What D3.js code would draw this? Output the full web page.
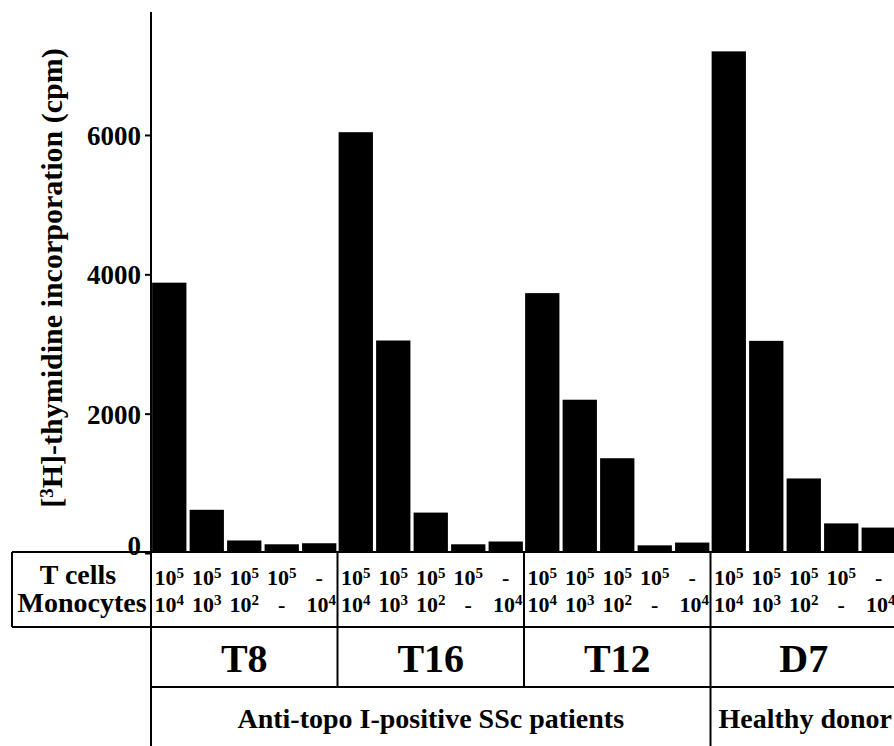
<!DOCTYPE html>
<html>
<head>
<meta charset="utf-8">
<script src="https://cdn.jsdelivr.net/npm/d3@7"></script>
<style>
  body { margin: 0; background: #fff; }
  text { font-family: "Liberation Serif", "DejaVu Serif", serif; font-weight: bold; fill: #000; }
</style>
</head>
<body>
<svg class="chart"></svg>
<script>
// cpm, one array per donor
var groups = ["T8", "T16", "T12", "D7"];
var t8  = [3880, 620, 180, 125, 140];
var t16 = [6040, 3050, 580, 125, 165];
var t12 = [3730, 2200, 1360, 110, 150];
var d7  = [7200, 3045, 1070, 425, 365];
var yTicks = [0, 2000, 4000, 6000];
var tCells = ["10|5", "10|5", "10|5", "10|5", "-"];
var monocytes = ["10|4", "10|3", "10|2", "-", "10|4"];
var cohorts = [
  {name: "Anti-topo I-positive SSc patients", from: "T8", to: "T12"},
  {name: "Healthy donor", from: "D7", to: "D7"}
];

var values = [t8, t16, t12, d7];
var conds = d3.range(5);

var width = 894, height = 746;
var axisX = 151, zeroY = 553, topY = 12;
var tableTop = 552, row1 = 627, row2 = 687, tableLeft = 12;

var svg = d3.select(".chart")
    .attr("width", width)
    .attr("height", height);

var x = d3.scaleBand()
    .domain(groups)
    .range([axisX, axisX + 4 * 186.5]);

var xi = d3.scaleBand()
    .domain(conds)
    .range([0, x.bandwidth()])
    .paddingInner(0.085)
    .paddingOuter(0.03);

var y = d3.scaleLinear()
    .domain([0, 7765])
    .range([zeroY, topY]);

// bars
var g = svg.selectAll(".grp")
    .data(groups)
  .enter().append("g")
    .attr("class", "grp")
    .attr("transform", function(d) { return "translate(" + x(d) + ",0)"; });

g.selectAll("rect")
    .data(function(d, i) { return values[i]; })
  .enter().append("rect")
    .attr("x", function(d, i) { return xi(i); })
    .attr("y", function(d) { return y(d); })
    .attr("width", xi.bandwidth())
    .attr("height", function(d) { return zeroY - y(d); })
    .attr("fill", "#000");

// y axis
var yAxis = d3.axisLeft(y).tickValues(yTicks).tickSize(6).tickPadding(4).tickFormat(d3.format("d"));
var ax = svg.append("g")
    .attr("transform", "translate(" + axisX + ",0)")
    .call(yAxis);
ax.select(".domain").remove();
ax.selectAll(".tick line").attr("stroke", "#000").attr("stroke-width", 2);
ax.selectAll(".tick text")
    .style("font-size", "27px")
    .style("font-family", "Liberation Serif")
    .attr("dy", function(d) { return d === 0 ? "0.05em" : "0.35em"; });

svg.append("line")
    .attr("x1", axisX).attr("x2", axisX)
    .attr("y1", topY).attr("y2", height)
    .attr("stroke", "#000").attr("stroke-width", 2);

// y title
var yt = svg.append("text")
    .attr("transform", "translate(62," + 278 + ") rotate(-90)")
    .style("text-anchor", "middle")
    .style("font-size", "30px");
yt.append("tspan").text("[");
yt.append("tspan").text("3").style("font-size", "19px").attr("dy", "-0.5em");
yt.append("tspan").text("H]-thymidine incorporation (cpm)").attr("dy", "0.32em");

// table lines
var rightEdge = width + 5;
var lines = [
  [tableLeft, tableTop, rightEdge, tableTop],
  [tableLeft, row1, rightEdge, row1],
  [tableLeft, tableTop, tableLeft, row1],
  [axisX, row2, rightEdge, row2]
];
groups.slice(1).forEach(function(gr) {
  lines.push([x(gr), tableTop, x(gr), row2]);
});
lines.push([x("D7"), row2, x("D7"), height]);

svg.selectAll(".tline")
    .data(lines)
  .enter().append("line")
    .attr("class", "tline")
    .attr("x1", function(d) { return d[0]; })
    .attr("y1", function(d) { return d[1]; })
    .attr("x2", function(d) { return d[2]; })
    .attr("y2", function(d) { return d[3]; })
    .attr("stroke", "#000")
    .attr("stroke-width", 2);

// row labels
svg.append("text").attr("x", 78).attr("y", 584)
    .style("text-anchor", "middle").style("font-size", "28px").text("T cells");
svg.append("text").attr("x", 82).attr("y", 612)
    .style("text-anchor", "middle").style("font-size", "28px").text("Monocytes");

function power(sel, s) {
  var p = s.split("|");
  sel.append("tspan").text(p[0]);
  if (p[1]) sel.append("tspan").text(p[1]).style("font-size", "15px").attr("dy", "-0.5em");
}

[[tCells, 585], [monocytes, 612]].forEach(function(row) {
  g.selectAll(null)
      .data(row[0])
    .enter().append("text")
      .attr("x", function(d, i) { return xi(i) + xi.bandwidth() / 2 + (i === 4 && d !== "-" ? 2 : 0); })
      .attr("y", row[1])
      .style("text-anchor", "middle")
      .style("font-size", "22px")
      .each(function(d) { power(d3.select(this), d); });
});

// donor names
g.append("text")
    .attr("x", x.bandwidth() / 2)
    .attr("y", 672)
    .style("text-anchor", "middle")
    .style("font-size", "40px")
    .text(function(d) { return d; });

// cohorts
svg.selectAll(".cohort")
    .data(cohorts)
  .enter().append("text")
    .attr("class", "cohort")
    .attr("x", function(d) {
      var a = x(d.from), b = x(d.to) + x.bandwidth();
      return d.from === d.to ? a + 8 : (a + b) / 2;
    })
    .attr("y", 728)
    .style("text-anchor", function(d) { return d.from === d.to ? "start" : "middle"; })
    .style("font-size", "28px")
    .text(function(d) { return d.name; });
</script>
</body>
</html>
